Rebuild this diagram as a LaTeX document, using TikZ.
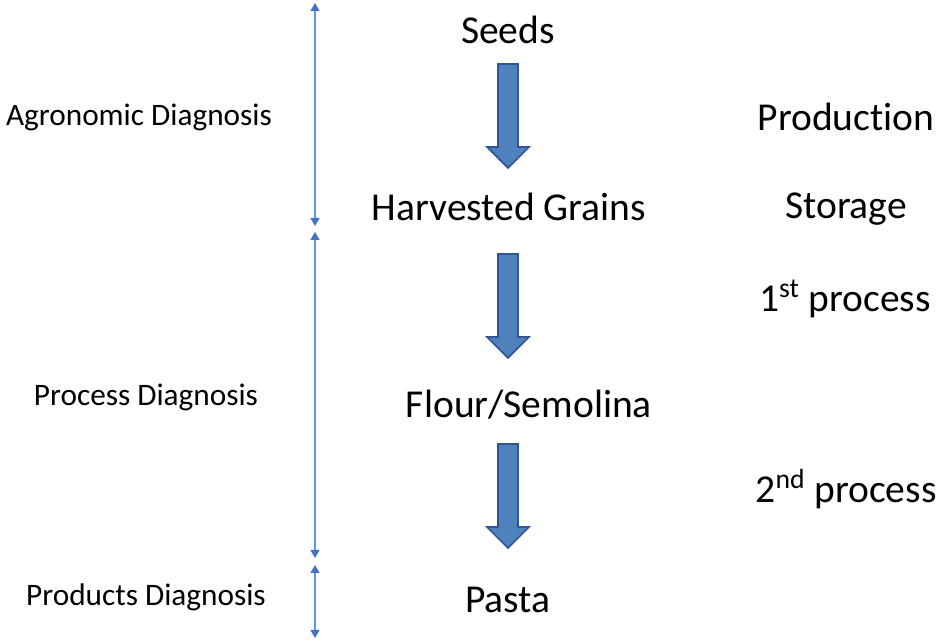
\documentclass[tikz,border=0pt]{standalone}
\usepackage{fontspec}
\setmainfont{Carlito}[Ligatures=NoCommon]
\usetikzlibrary{arrows.meta,positioning}

\definecolor{linkblue}{HTML}{5B9BD5}
\definecolor{tipblue}{HTML}{4472C4}
\definecolor{blockfill}{HTML}{4F81BD}
\definecolor{blockline}{HTML}{2F5597}

% block arrow pointing down: x, top y, bottom y
\newcommand{\blockdown}[3]{%
  \draw[block] (#1-10,#2) -- (#1+10,#2) -- (#1+10,#3-21) -- (#1+21,#3-21)
    -- (#1,#3) -- (#1-21,#3-21) -- (#1-10,#3-21) -- cycle;}

\begin{document}
\begin{tikzpicture}[
  x=0.02cm, y=-0.02cm,
  stage/.style={font=\fontsize{22.5}{27}\selectfont, inner sep=0pt},
  diag/.style={font=\fontsize{17.8}{21}\selectfont, inner sep=0pt},
  span/.style={{Triangle[length=1.6mm,width=1.8mm,color=tipblue]}-{Triangle[length=1.6mm,width=1.8mm,color=tipblue]}, linkblue, line width=0.8pt},
  block/.style={fill=blockfill, draw=blockline, line width=1pt, line join=miter}]
  \useasboundingbox (0,0) rectangle (938,641);

  % stages
  \node[stage] (seeds) at (508,30) {Seeds};
  \node[stage] (grains) at (509,207) {Harvested Grains};
  \node[stage] (flour) at (529,405) {Flour/Semolina};
  \node[stage] (pasta) at (508,600) {Pasta};

  % steps on the right
  \node[stage] (prod) at (846,117) {Production};
  \node[stage] (store) at (846,209) {Storage};
  \node[stage] (proc1) at (845,299) {1\textsuperscript{st} process};
  \node[stage] (proc2) at (846,489) {2\textsuperscript{nd} process};

  % diagnoses on the left
  \node[diag] (agro) at (139,117) {Agronomic Diagnosis};
  \node[diag] (procd) at (146,397) {Process Diagnosis};
  \node[diag] (prodd) at (146,597) {Products Diagnosis};

  % spans
  \coordinate (a1) at (315,3);
  \coordinate (a2) at (315,226);
  \coordinate (b1) at (315,232);
  \coordinate (b2) at (315,558);
  \coordinate (c1) at (315,565);
  \coordinate (c2) at (315,638);
  \draw[span] (a1) -- (a2);
  \draw[span] (b1) -- (b2);
  \draw[span] (c1) -- (c2);

  % block arrows
  \blockdown{508}{64}{168}
  \blockdown{508}{254}{358}
  \blockdown{508}{444}{548}
\end{tikzpicture}
\end{document}
